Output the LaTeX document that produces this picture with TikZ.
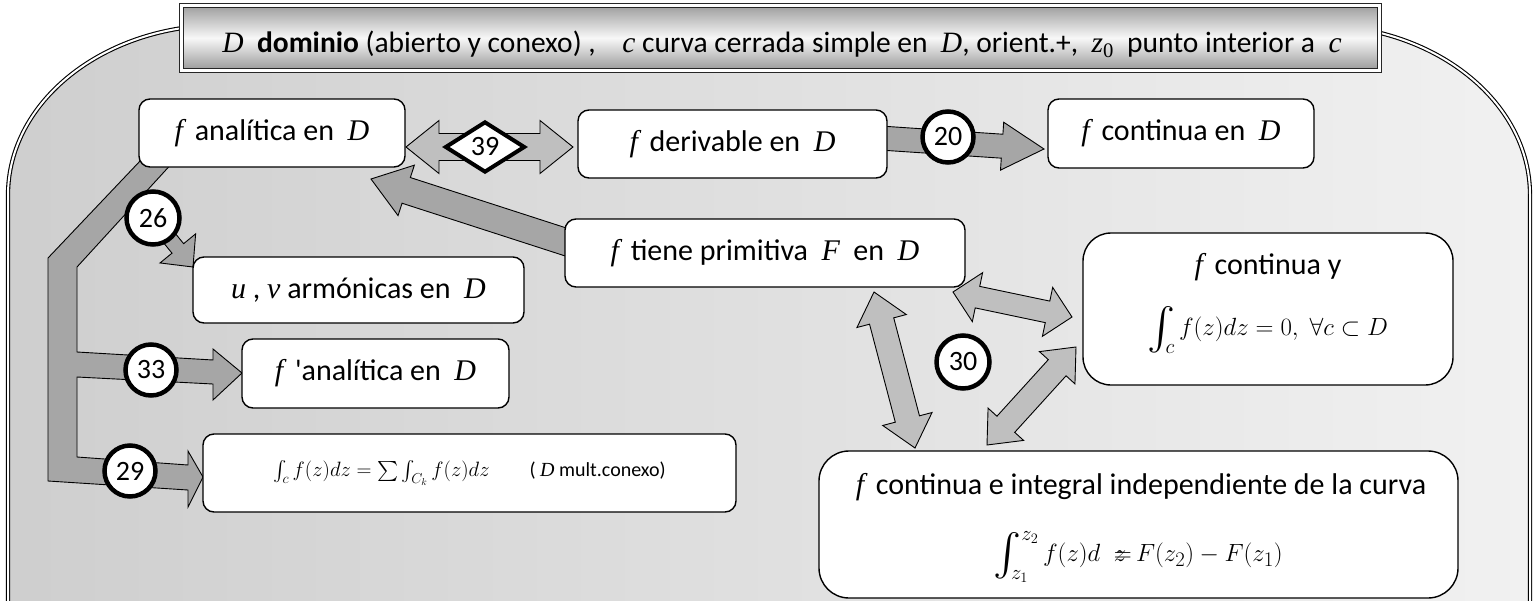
\documentclass[tikz,border=0pt]{standalone}
\usepackage{amsmath,amssymb}
\usepackage{graphicx}
\usepackage{fontspec}
\setmainfont{Carlito}
\newfontfamily\tms{Liberation Serif}
\usetikzlibrary{calc,shapes.geometric}
\newcommand\vv[1]{{\tms\itshape #1}}
\newcommand\myint{\mathop{\vcenter{\hbox{\scalebox{1.4}{$\int$}}}}\nolimits}
\definecolor{bgL}{gray}{0.81}
\definecolor{bgR}{gray}{0.945}
\definecolor{banT}{gray}{0.62}
\definecolor{banM}{gray}{0.97}
\definecolor{banB}{gray}{0.60}
\definecolor{arrdark}{gray}{0.65}
\definecolor{arrlight}{gray}{0.75}
% single block arrow: style, from, to, shaft half width, head half width, head length
\newcommand\blkarrow[6]{%
  \filldraw[#1] ($(#2)!#4!90:(#3)$) -- ($(#3)!#6!(#2)!#4!-90:(#2)$) -- ($(#3)!#6!(#2)!#5!-90:(#2)$) -- (#3) -- ($(#3)!#6!(#2)!#5!90:(#2)$) -- ($(#3)!#6!(#2)!#4!90:(#2)$) -- ($(#2)!#4!-90:(#3)$) -- cycle;}
% double block arrow
\newcommand\dblarrow[6]{%
  \filldraw[#1] (#2) -- ($(#2)!#6!(#3)!#5!90:(#3)$) -- ($(#2)!#6!(#3)!#4!90:(#3)$) -- ($(#3)!#6!(#2)!#4!-90:(#2)$) -- ($(#3)!#6!(#2)!#5!-90:(#2)$) -- (#3) -- ($(#3)!#6!(#2)!#5!90:(#2)$) -- ($(#3)!#6!(#2)!#4!90:(#2)$) -- ($(#2)!#6!(#3)!#4!-90:(#3)$) -- ($(#2)!#6!(#3)!#5!-90:(#3)$) -- cycle;}
\tikzset{
  darkarr/.style={fill=arrdark, draw=black, line width=0.9pt, line join=miter},
  lightarr/.style={fill=arrlight, draw=black, line width=0.9pt, line join=miter},
  box/.style={draw=black, line width=1.4pt, fill=white, rounded corners=11pt, inner sep=0pt},
  bigbox/.style={box, rounded corners=28pt},
  txt/.style={inner sep=0pt},
  numc/.style={circle, draw=black, line width=4.5pt, fill=white, minimum size=51pt, inner sep=0pt, font=\fontsize{28}{30}\selectfont},
}
\begin{document}
\begin{tikzpicture}[x=1pt,y=-1pt, every node/.style={font=\fontsize{30}{36}\selectfont}]
\useasboundingbox (0,0) rectangle (1539,600);
\clip (0,0) rectangle (1539,600);
% background frame
\path[draw=black, line width=1.1pt, double=white, double distance=2pt, left color=bgL, right color=bgR]
  (8,640) -- (8,195) .. controls (8,101) and (104,25) .. (223,25) -- (1315,25)
  .. controls (1434,25) and (1530,101) .. (1530,195) -- (1530,640);
% banner
\node[draw=black!85, line width=1.2pt, double=white, double distance=2.2pt, top color=banT, bottom color=banB, middle color=banM, minimum width=1198pt, minimum height=65pt, inner sep=0pt] (banner) at (780.5,38) {};
\node[txt, anchor=base, font=\fontsize{29.5}{34}\selectfont] (bantext) at (782,52) {\vv{D}\ \ \textbf{dominio} (abierto y conexo) ,\ \ \ \ \vv{c} curva cerrada simple en\ \ \vv{D}, orient.+,\ \ \vv{z}\textsubscript{\tms 0}\ \ punto interior a\ \ \vv{c}};
% trunk arrow on the left
\filldraw[darkarr] (141,160) -- (175,160) -- (77,267) -- (77,352) -- (213,360) -- (213,349) -- (242,373)
  -- (213,400) -- (213,384) -- (77,377) -- (77,457) -- (188,465) -- (188,451) -- (203,477)
  -- (188,507) -- (188,490) -- (48,481) -- (48,258) -- cycle;
% arrow endpoints
\coordinate (c26a) at (153,218); \coordinate (c26b) at (193,267);
\coordinate (c20a) at (880,138); \coordinate (c20b) at (1044,149);
\coordinate (cEAa) at (572,244); \coordinate (cEAb) at (371,179);
\coordinate (c39a) at (406,147); \coordinate (c39b) at (573,147);
\coordinate (cEGa) at (874,292); \coordinate (cEGb) at (915,448);
\coordinate (cEFa) at (953,292); \coordinate (cEFb) at (1072,317);
\coordinate (cFGa) at (1076,347); \coordinate (cFGb) at (987,445);
\blkarrow{darkarr}{c26a}{c26b}{7.5pt}{23pt}{24pt}
\blkarrow{darkarr}{c20a}{c20b}{12pt}{24pt}{42pt}
\blkarrow{darkarr}{cEAa}{cEAb}{13.5pt}{26.5pt}{37pt}
\dblarrow{lightarr}{c39a}{c39b}{13.5pt}{26.5pt}{33pt}
\dblarrow{lightarr}{cEGa}{cEGb}{12.5pt}{25.5pt}{30pt}
\dblarrow{lightarr}{cEFa}{cEFb}{11pt}{25pt}{25pt}
\dblarrow{lightarr}{cFGa}{cFGb}{12pt}{24pt}{28pt}
% boxes
\node[box, minimum width=266pt, minimum height=68pt] (A) at (272,133) {\vv{f}\,\ analítica en\ \ \vv{D}};
\node[box, minimum width=309pt, minimum height=68pt] (B) at (732.5,144) {\vv{f}\,\ derivable en\ \ \vv{D}};
\node[box, minimum width=266pt, minimum height=69pt] (C) at (1181,133.5) {\vv{f}\,\ continua en\ \ \vv{D}};
\node[box, minimum width=400pt, minimum height=68pt] (E) at (765,253) {\vv{f}\,\ tiene primitiva\ \ \vv{F}\ \ en\ \ \vv{D}};
\node[box, minimum width=331pt, minimum height=66pt] (U) at (358.5,290) {\vv{u} , \vv{v}\ armónicas en\ \ \vv{D}};
\node[box, minimum width=267pt, minimum height=69pt] (P) at (375.5,373.5) {\vv{f}\,\ \textquotesingle analítica en\ \ \vv{D}};
\node[box, minimum width=533pt, minimum height=78pt] (H) at (469.5,473) {};
\node[txt, font=\fontsize{20}{24}\selectfont] (Ht) at (469.5,473) {$\int_c f(z)dz=\sum\int_{C_k} f(z)dz$\hspace{2em}( \vv{D}\ mult.conexo)};
\node[bigbox, minimum width=370pt, minimum height=152pt] (F) at (1268,309) {};
\node[txt] (F1) at (1268,267) {\vv{f}\,\ continua y};
\node[txt] (F2) at (1268,330) {$\myint_{\mkern-9mu c} f(z)dz=0,\ \forall c\subset D$};
\node[bigbox, rounded corners=30pt, minimum width=639pt, minimum height=147pt] (G) at (1138.5,524.5) {};
\node[txt] (G1) at (1141,487) {\vv{f}\,\ continua e integral independiente de la curva};
\node[txt] (G2) at (1138,557) {$\myint_{\mkern-9mu z_1}^{z_2} f(z)d\ \ z\mkern-9mu{=}\,F(z_2)-F(z_1)$};
% numbers
\node[numc, minimum size=53pt] (n26) at (153,218) {26};
\node[numc] (n33) at (151,370) {33};
\node[numc] (n29) at (130,471) {29};
\node[numc] (n20) at (948,137) {20};
\node[numc, minimum size=53pt] (n30) at (963,362) {30};
\node[diamond, draw=black, line width=4pt, fill=white, minimum width=80pt, minimum height=51pt, inner sep=0pt, font=\fontsize{28}{30}\selectfont] (d39) at (485,147) {39};
\end{tikzpicture}
\end{document}
